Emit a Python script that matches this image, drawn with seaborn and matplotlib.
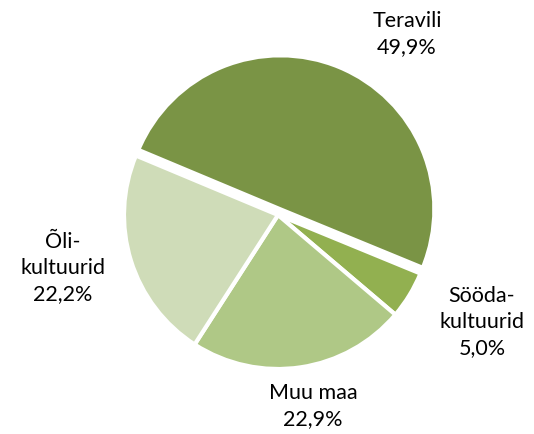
import matplotlib
matplotlib.use("Agg")
import matplotlib.pyplot as plt
import seaborn as sns
import numpy as np

categories = ["Teravili", "Sööda-\nkultuurid", "Muu maa", "Õli-\nkultuurid"]
shares = [49.9, 5.0, 22.9, 22.2]
pct_labels = ["49,9%", "5,0%", "22,9%", "22,2%"]
colors = ["#7A9445", "#92B050", "#AFC886", "#CFDCB8"]

sns.set_theme(style="white")
plt.rcParams['font.family'] = ['Lato', 'DejaVu Sans']

W, H = 534, 434
cx, cy, r = 278, 215, 154
fig = plt.figure(figsize=(W/100, H/100), dpi=100)
ax = fig.add_axes([0, 0, 1, 1])

wedges, _ = ax.pie(shares, colors=colors, startangle=157.3, counterclock=False,
                   explode=[0.04, 0, 0, 0], radius=1.0,
                   wedgeprops=dict(edgecolor='white', linewidth=3))
ax.set_xlim((0 - cx)/r, (W - cx)/r)
ax.set_ylim((cy - H)/r, (cy - 0)/r)
ax.set_aspect('equal')
ax.axis('off')

def px(x, y):
    return ((x - cx)/r, (cy - y)/r)

label_pos = [(407, 34), (482, 322), (313, 406), (63, 268)]
for cat, pct, (lx, ly) in zip(categories, pct_labels, label_pos):
    x, y = px(lx, ly)
    ax.text(x, y, f"{cat}\n{pct}", ha='center', va='center', fontsize=15.5,
            linespacing=1.4, color='black')

fig.savefig("out.png", dpi=100, facecolor='white')
